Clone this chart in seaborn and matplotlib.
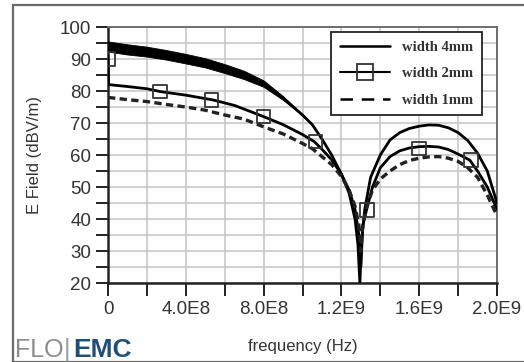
import matplotlib
matplotlib.use("Agg")
import matplotlib.pyplot as plt
from matplotlib.lines import Line2D
from matplotlib.patches import Rectangle
import seaborn as sns
import numpy as np

# ---- data ----
freq_4mm = [0, 0.1e9, 0.2e9, 0.3e9, 0.4e9, 0.5e9, 0.6e9, 0.7e9, 0.8e9, 0.9e9, 1.0e9, 1.05e9,
            1.1e9, 1.15e9, 1.2e9, 1.24e9, 1.27e9, 1.285e9, 1.295e9, 1.305e9, 1.32e9, 1.35e9,
            1.4e9, 1.45e9, 1.5e9, 1.55e9, 1.6e9, 1.65e9, 1.7e9, 1.75e9, 1.8e9, 1.85e9, 1.9e9,
            1.95e9, 2.0e9]
field_4mm = [93.9, 93.0, 92.3, 91.3, 90.1, 88.8, 87.0, 85.0, 82.3, 77.8, 72.5, 69.5,
             65.0, 60.0, 54.0, 48.0, 40.0, 32.0, 20.0, 34.0, 43.0, 53.0,
             60.0, 64.7, 67.0, 68.3, 69.0, 69.4, 69.3, 68.5, 67.0, 64.5, 60.6,
             55.0, 45.0]
# ripple envelope of the 4mm curve at low frequency
band_freq = [0, 0.1e9, 0.2e9, 0.3e9, 0.4e9, 0.5e9, 0.6e9, 0.7e9, 0.8e9, 0.9e9, 0.95e9, 1.0e9]
band_hi = [95.5, 94.6, 93.85, 92.8, 91.6, 90.25, 88.4, 86.3, 83.3, 78.4, 75.5, 72.6]
band_lo = [92.3, 91.4, 90.75, 89.8, 88.6, 87.35, 85.6, 83.7, 81.3, 77.2, 74.8, 72.4]

freq_2mm = [0, 0.003e9, 0.1e9, 0.2e9, 0.27e9, 0.4e9, 0.54e9, 0.65e9, 0.8e9, 0.9e9, 1.0e9,
            1.06e9, 1.1e9, 1.15e9, 1.2e9, 1.24e9, 1.27e9, 1.29e9, 1.30e9, 1.31e9, 1.33e9,
            1.36e9, 1.4e9, 1.45e9, 1.5e9, 1.55e9, 1.6e9, 1.65e9, 1.7e9, 1.75e9, 1.8e9,
            1.86e9, 1.9e9, 1.95e9, 2.0e9]
field_2mm = [91.0, 82.0, 81.4, 80.7, 79.8, 78.7, 77.2, 75.5, 72.0, 69.5, 66.4,
             64.2, 61.8, 58.5, 54.0, 49.0, 43.0, 35.0, 25.0, 38.0, 43.0,
             50.0, 56.0, 59.5, 61.3, 62.2, 62.6, 62.7, 62.5, 61.7, 60.3,
             58.4, 55.0, 50.0, 43.0]
mark_freq_2mm = [0, 0.266e9, 0.533e9, 0.8e9, 1.066e9, 1.333e9, 1.6e9, 1.866e9]
mark_field_2mm = [90.0, 79.8, 77.2, 72.0, 64.2, 42.8, 62.0, 58.4]

freq_1mm = [0, 0.1e9, 0.2e9, 0.3e9, 0.4e9, 0.5e9, 0.6e9, 0.7e9, 0.8e9, 0.9e9, 1.0e9, 1.05e9,
            1.1e9, 1.15e9, 1.2e9, 1.24e9, 1.27e9, 1.29e9, 1.30e9, 1.31e9, 1.33e9, 1.36e9,
            1.4e9, 1.45e9, 1.5e9, 1.55e9, 1.6e9, 1.65e9, 1.7e9, 1.75e9, 1.8e9, 1.85e9,
            1.9e9, 1.95e9, 2.0e9]
field_1mm = [78.0, 77.3, 76.7, 75.8, 75.0, 74.0, 72.5, 71.2, 68.8, 66.6, 63.6, 62.0,
             59.5, 57.0, 53.3, 49.0, 44.0, 38.0, 30.0, 38.0, 44.0, 49.0,
             52.5, 55.0, 57.0, 58.3, 59.0, 59.4, 59.5, 59.0, 58.0, 56.0,
             53.0, 47.5, 41.0]

series_labels = ["width 4mm", "width 2mm", "width 1mm"]
xtick_values = [0, 0.2e9, 0.4e9, 0.6e9, 0.8e9, 1.0e9, 1.2e9, 1.4e9, 1.6e9, 1.8e9, 2.0e9]
xtick_labels = ["0", "", "4.0E8", "", "8.0E8", "", "1.2E9", "", "1.6E9", "", "2.0E9"]
ytick_values = [20, 30, 40, 50, 60, 70, 80, 90, 100]
x_title = "frequency (Hz)"
y_title = "E Field (dBV/m)"

# ---- figure ----
sns.set_theme(style="white")
plt.rcParams['font.family'] = ['Liberation Sans', 'DejaVu Sans']

W, H = 524, 362
fig = plt.figure(figsize=(W / 100, H / 100), dpi=100)
fig.patch.set_facecolor("white")

def px(x, y):
    return x / W, 1 - y / H

l, t = px(108, 27)
r, b = px(497, 283)
ax = fig.add_axes([l, b, r - l, t - b])
ax.set_facecolor("white")

ax.set_xlim(0, 2.0e9)
ax.set_ylim(20, 100)

# grid
ax.set_xticks(xtick_values)
ax.set_xticklabels(xtick_labels)
ax.set_yticks(ytick_values)
ax.set_yticks(np.arange(25, 100, 10), minor=True)
ax.grid(True, which="both", color="#c4c4c4", linewidth=1.1)
ax.set_axisbelow(True)

# curves
ax.fill_between(band_freq, band_lo, band_hi, color="black", linewidth=0.6, zorder=3)
sns.lineplot(x=freq_4mm, y=field_4mm, ax=ax, color="black", linewidth=2.0,
             estimator=None, sort=False, zorder=4)
sns.lineplot(x=freq_2mm, y=field_2mm, ax=ax, color="black", linewidth=2.0,
             estimator=None, sort=False, zorder=4)
sns.lineplot(x=freq_1mm, y=field_1mm, ax=ax, color="#222222", linewidth=2.4,
             estimator=None, sort=False, zorder=4)
ax.lines[-1].set_dashes((2.2, 1.3))
ax.scatter(mark_freq_2mm, mark_field_2mm, marker="s", s=95, facecolors="none",
           edgecolors="#333333", linewidths=1.3, zorder=5)

# spines
for side in ("left", "bottom"):
    ax.spines[side].set_color("#222222")
    ax.spines[side].set_linewidth(1.8)
for side in ("top", "right"):
    ax.spines[side].set_color("#6e6e6e")
    ax.spines[side].set_linewidth(1.4)

ax.tick_params(axis="both", which="both", direction="out", length=9, width=1.4,
               color="#222222", labelsize=13.5, labelcolor="#333333")
ax.tick_params(axis="x", which="both", bottom=True, pad=4)
ax.tick_params(axis="y", which="both", left=True, pad=3)

ax.set_xlabel(x_title, fontsize=12, color="#333333")
ax.set_ylabel(y_title, fontsize=12, color="#333333")
ax.xaxis.set_label_coords(0.5, -0.22)
ax.yaxis.set_label_coords(-0.17, 0.5)

# legend
handles = [
    Line2D([0], [0], color="black", linewidth=1.8),
    Line2D([0], [0], color="black", linewidth=1.5, marker="s", markersize=11,
           markerfacecolor="none", markeredgecolor="#333333", markeredgewidth=1.3),
    Line2D([0], [0], color="black", linewidth=1.8, dashes=(5, 3.5)),
]
lx, ly = px(482, 32)
leg = ax.legend(handles, series_labels, loc="upper right", bbox_to_anchor=(lx, ly),
                bbox_transform=fig.transFigure, frameon=True, fancybox=False,
                edgecolor="#222222", framealpha=1, borderaxespad=0,
                handlelength=3.4, handletextpad=0.85, labelspacing=0.9,
                borderpad=0.6,
                prop={"family": ["Liberation Serif", "DejaVu Serif"], "weight": "bold",
                      "size": 10.5})
leg.get_frame().set_linewidth(1.3)
for txt in leg.get_texts():
    txt.set_color("#333333")
leg.set_zorder(10)

# outer border and logo
fig.patches.append(Rectangle((13 / W, 0.0), 1.2, 1 - 5 / H, transform=fig.transFigure,
                             fill=False, edgecolor="#6a6a6a", linewidth=1.6))
fig.text(15 / W, 5 / H, "FLO", fontsize=18, color="#8c8c8c",
         family=["Liberation Sans Narrow", "Liberation Sans", "DejaVu Sans"], va="baseline")
fig.text(64 / W, 5 / H, "|", fontsize=18, color="#9a9a9a", va="baseline",
         family=["Liberation Sans", "DejaVu Sans"])
fig.text(73 / W, 5 / H, "EMC", fontsize=19, color="#1f4e79", fontweight="bold",
         family=["Liberation Sans", "DejaVu Sans"], va="baseline")

fig.savefig("out.png", dpi=100)
